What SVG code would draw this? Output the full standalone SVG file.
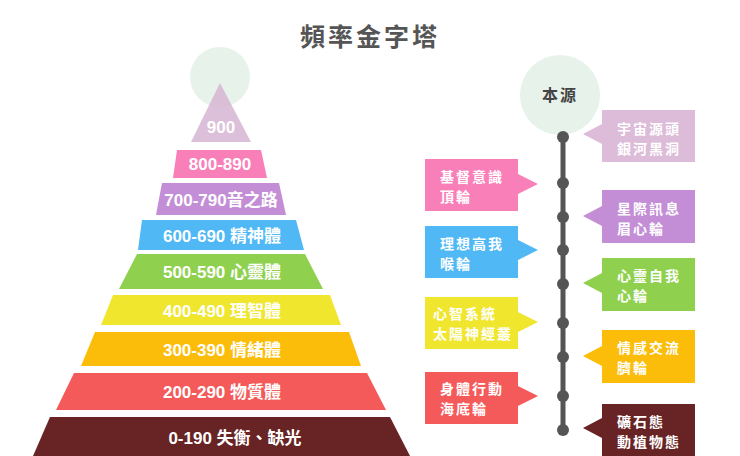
<svg xmlns="http://www.w3.org/2000/svg" width="740" height="456" viewBox="0 0 740 456">
<style>
.t{font-family:"Liberation Sans","Noto Sans CJK TC",sans-serif;font-weight:bold;fill:#fff}
.p{font-size:17px;text-anchor:middle}
.b{font-size:14px;letter-spacing:2px}
</style>
<rect width="740" height="456" fill="#fff"/>
<text x="370" y="46" font-family="Liberation Sans,'Noto Sans CJK TC',sans-serif" font-weight="bold" font-size="25" fill="#555" text-anchor="middle" letter-spacing="3">頻率金字塔</text>
<g id="pyramid">
<circle cx="220" cy="77" r="30" fill="#e6f2ea"/>
<g id="l900"><polygon points="220,83 251,142 191,142" fill="#d8b8d4" opacity="0.9"/><text class="t p" x="221" y="133">900</text></g>
<g id="l800"><polygon points="177,150 261,150 267,178 173,178" fill="#f97fb8"/><text class="t p" x="220" y="170">800-890</text></g>
<g id="l700"><polygon points="162,183 279,183 286,215 156,215" fill="#c38ed6"/><text class="t p" x="221" y="206" font-size="16">700-790音之路</text></g>
<g id="l600"><polygon points="142,220 296,220 304,250 138,250" fill="#4fb8f5"/><text class="t p" x="222" y="242">600-690 精神體</text></g>
<g id="l500"><polygon points="137,254 305,254 323,289 119,289" fill="#8fd14f"/><text class="t p" x="222" y="278">500-590 心靈體</text></g>
<g id="l400"><polygon points="113,295 330,295 341,325 101,325" fill="#f0e62e"/><text class="t p" x="222" y="317">400-490 理智體</text></g>
<g id="l300"><polygon points="95,332 349,332 361,366 81,366" fill="#fcbd0a"/><text class="t p" x="222" y="356">300-390 情緒體</text></g>
<g id="l200"><polygon points="74,373 367,373 386,410 56,410" fill="#f55a5a"/><text class="t p" x="222" y="398">200-290 物質體</text></g>
<g id="l0"><polygon points="50,417 390,417 410,456 33,456" fill="#682424"/><text class="t p" x="235" y="444">0-190  失衡、缺光</text></g>
</g>
<g id="source"><circle cx="560" cy="95" r="40" fill="#e6f2ea"/><text x="560" y="101" font-family="Liberation Sans,'Noto Sans CJK TC',sans-serif" font-weight="bold" font-size="16" fill="#444" text-anchor="middle" letter-spacing="2">本源</text></g>
<g id="connectors">
<line x1="563" y1="137" x2="563" y2="430" stroke="#555" stroke-width="5"/>
<g fill="#555"><circle cx="563" cy="137" r="6"/><circle cx="563" cy="183" r="6"/><circle cx="563" cy="217" r="6"/><circle cx="563" cy="250" r="6"/><circle cx="563" cy="284" r="6"/><circle cx="563" cy="323" r="6"/><circle cx="563" cy="357" r="6"/><circle cx="563" cy="396" r="6"/><circle cx="563" cy="430" r="6"/></g>
</g>
<g id="r1"><path d="M602,110H695V162H602V144L583,134L602,124Z" fill="#dcbcd8"/><text class="t b" x="617" y="134">宇宙源頭</text><text class="t b" x="617" y="154">銀河黑洞</text></g>
<g id="r2"><path d="M602,190H695V243H602V226L583,216L602,206Z" fill="#c38ed6"/><text class="t b" x="617" y="214">星際訊息</text><text class="t b" x="617" y="234">眉心輪</text></g>
<g id="r3"><path d="M602,258H695V311H602V293L583,283L602,273Z" fill="#8fd14f"/><text class="t b" x="617" y="281">心靈自我</text><text class="t b" x="617" y="301">心輪</text></g>
<g id="r4"><path d="M602,330H695V383H602V366L583,356L602,346Z" fill="#fcbd0a"/><text class="t b" x="617" y="353">情感交流</text><text class="t b" x="617" y="373">臍輪</text></g>
<g id="r5"><path d="M602,404H695V456H602V438L583,428L602,418Z" fill="#682424"/><text class="t b" x="617" y="427">礦石態</text><text class="t b" x="617" y="447">動植物態</text></g>
<g id="le1"><path d="M425,159H518V174L538,184L518,194V211H425Z" fill="#f97fb8"/><text class="t b" x="440" y="182">基督意識</text><text class="t b" x="440" y="202">頂輪</text></g>
<g id="le2"><path d="M425,226H518V240L538,250L518,260V278H425Z" fill="#4fb8f5"/><text class="t b" x="440" y="249">理想高我</text><text class="t b" x="440" y="269">喉輪</text></g>
<g id="le3"><path d="M425,297H518V312L538,322L518,332V349H425Z" fill="#f0e62e"/><text class="t b" x="433" y="319">心智系統</text><text class="t b" x="433" y="339">太陽神經叢</text></g>
<g id="le4"><path d="M425,372H518V386L538,396L518,406V424H425Z" fill="#f55a5a"/><text class="t b" x="440" y="394">身體行動</text><text class="t b" x="440" y="414">海底輪</text></g>
</svg>
